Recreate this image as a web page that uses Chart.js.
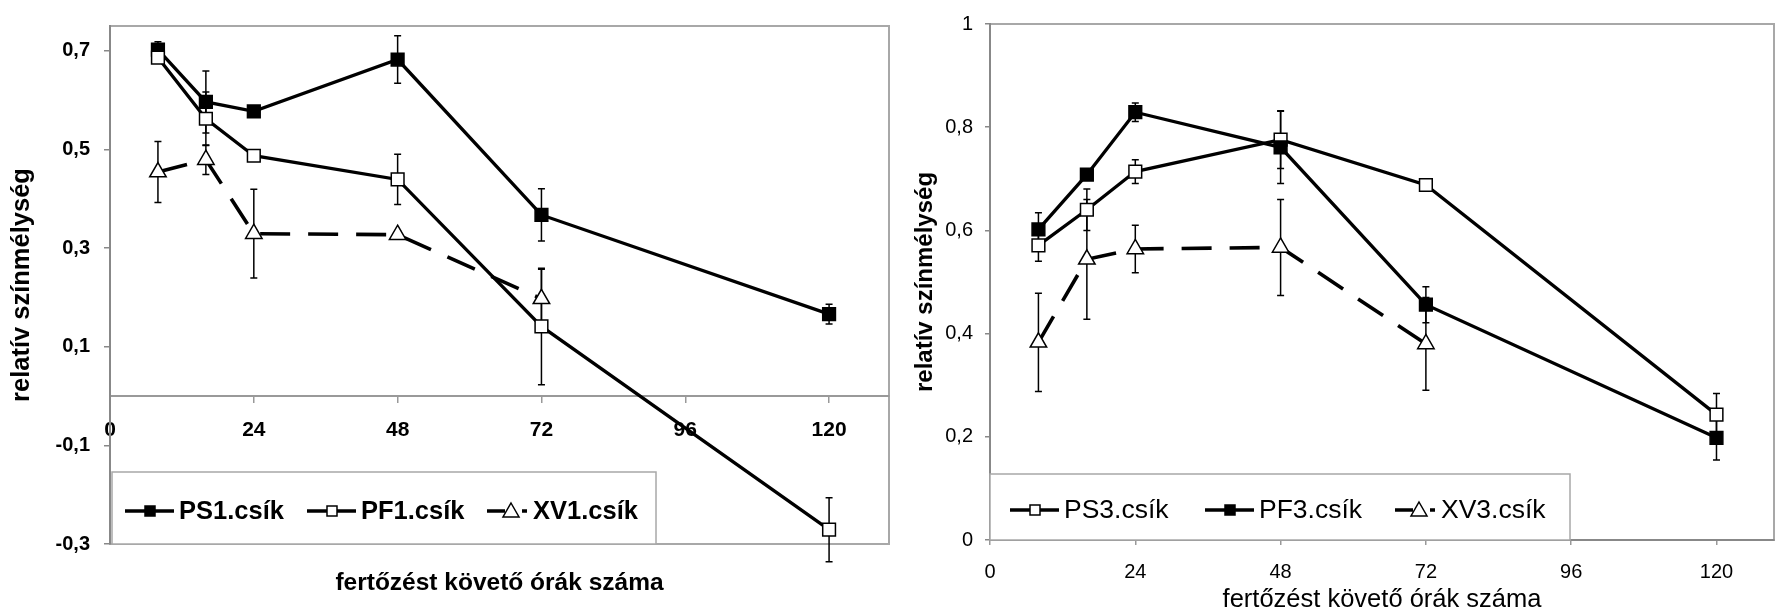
<!DOCTYPE html>
<html>
<head>
<meta charset="utf-8">
<script src="https://cdn.jsdelivr.net/npm/chart.js@4.4.1/dist/chart.umd.min.js"></script>
<style>
    html, body { margin: 0; padding: 0; background: #fff; }
    #wrap { position: relative; width: 1785px; height: 613px; overflow: hidden; }
    canvas { position: absolute; top: 0; }
    #left { left: 0; }
    #right { left: 900px; }
</style>
</head>
<body>
<div id="wrap">
    <canvas id="left" width="900" height="613"></canvas>
    <canvas id="right" width="885" height="613"></canvas>
</div>
<script>
// hours after infection
const hours = [8, 16, 24, 48, 72, 120];
const xTicks = [0, 24, 48, 72, 96, 120];
const yTicksLeft = [-0.3, -0.1, 0.1, 0.3, 0.5, 0.7];
const yTicksRight = [0, 0.2, 0.4, 0.6, 0.8, 1];

// left chart
const ps1 = [0.702, 0.596, 0.577, 0.682, 0.367, 0.166];
const ps1Err = [0.016, 0.063, 0.008, 0.048, 0.053, 0.02];
const pf1 = [0.686, 0.562, 0.487, 0.439, 0.141, -0.271];
const pf1Err = [0.01, 0.054, 0.008, 0.051, 0.118, 0.065];
const xv1 = [0.454, 0.479, 0.329, 0.327, 0.197, null];
const xv1Err = [0.062, 0.03, 0.09, 0.008, 0.06, null];

// right chart
const ps3 = [0.571, 0.640, 0.714, 0.776, 0.688, 0.243];
const ps3Err = [0.031, 0.04, 0.023, 0.056, 0.006, 0.041];
const pf3 = [0.602, 0.708, 0.829, 0.761, 0.456, 0.198];
const pf3Err = [0.032, 0.008, 0.018, 0.07, 0.035, 0.043];
const xv3 = [0.383, 0.544, 0.564, 0.567, 0.380, null];
const xv3Err = [0.095, 0.116, 0.046, 0.093, 0.09, null];

const FONT = '"Liberation Sans", Arial, sans-serif';
Chart.defaults.font.family = FONT;
Chart.defaults.color = '#000';

function points(values) {
    return hours.map((h, i) => ({ x: h, y: values[i] })).filter((p) => p.y !== null);
}
function errs(values, errors) {
    return errors.filter((e, i) => values[i] !== null);
}
const comma = (v) => String(v).replace('.', ',');

function dataset(label, values, errors, style) {
    const open = style !== 'filled';
    return {
        label,
        data: points(values),
        errors: errs(values, errors),
        borderColor: '#000',
        borderWidth: style === 'triangle' ? 3.6 : 3.3,
        borderDash: style === 'triangle' ? [30, 18] : [],
        pointStyle: style === 'triangle' ? 'triangle' : 'rect',
        pointRadius: style === 'triangle' ? 9.5 : 9,
        pointHoverRadius: style === 'triangle' ? 9.5 : 9,
        pointBorderWidth: 1.5,
        pointBorderColor: '#000',
        pointBackgroundColor: open ? '#fff' : '#000',
        fill: false,
        tension: 0,
        legendStyle: style
    };
}

const frame = {
    id: 'frame',
    beforeDraw(chart) {
        const { ctx, chartArea: a } = chart;
        ctx.save();
        ctx.strokeStyle = '#a8a8a8';
        ctx.lineWidth = 2;
        ctx.strokeRect(a.left, a.top, a.right - a.left, a.bottom - a.top);
        ctx.restore();
    }
};

const errorBars = {
    id: 'errorBars',
    beforeDatasetsDraw(chart) {
        const { ctx, scales: { x, y } } = chart;
        ctx.save();
        ctx.strokeStyle = '#000';
        ctx.lineWidth = 1.5;
        chart.data.datasets.forEach((ds) => {
            ds.data.forEach((p, i) => {
                const e = ds.errors[i];
                if (!e) return;
                const px = x.getPixelForValue(p.x);
                const top = y.getPixelForValue(p.y + e);
                const bot = y.getPixelForValue(p.y - e);
                ctx.beginPath();
                ctx.moveTo(px, top); ctx.lineTo(px, bot);
                ctx.moveTo(px - 3.5, top); ctx.lineTo(px + 3.5, top);
                ctx.moveTo(px - 3.5, bot); ctx.lineTo(px + 3.5, bot);
                ctx.stroke();
            });
        });
        ctx.restore();
    }
};

function legendMarker(ctx, style, x, y) {
    ctx.lineWidth = 1.5;
    ctx.strokeStyle = '#000';
    ctx.beginPath();
    if (style === 'triangle') {
        ctx.moveTo(x, y - 8);
        ctx.lineTo(x + 8, y + 6);
        ctx.lineTo(x - 8, y + 6);
        ctx.closePath();
        ctx.fillStyle = '#fff';
    } else {
        ctx.rect(x - 5, y - 5, 10, 10);
        ctx.fillStyle = style === 'filled' ? '#000' : '#fff';
    }
    ctx.fill();
    ctx.stroke();
}

const boxLegend = {
    id: 'boxLegend',
    afterDraw(chart, args, opts) {
        const { ctx, chartArea: a } = chart;
        ctx.save();
        ctx.fillStyle = '#fff';
        ctx.strokeStyle = '#a8a8a8';
        ctx.lineWidth = 1.5;
        const bx = a.left + opts.boxLeft;
        const by = a.bottom - opts.boxHeight;
        ctx.fillRect(bx, by, opts.boxWidth, opts.boxHeight);
        ctx.strokeRect(bx, by, opts.boxWidth, opts.boxHeight);
        const ty = a.bottom - opts.textFromBottom;
        chart.data.datasets.forEach((ds, i) => {
            const x0 = a.left + opts.items[i];
            ctx.strokeStyle = '#000';
            ctx.lineWidth = 3.5;
            ctx.beginPath();
            let tx;
            if (ds.legendStyle === 'triangle') {
                ctx.moveTo(x0, ty); ctx.lineTo(x0 + 18, ty);
                ctx.moveTo(x0 + 35, ty); ctx.lineTo(x0 + 40, ty);
                ctx.stroke();
                legendMarker(ctx, 'triangle', x0 + 24, ty);
                tx = x0 + 46;
            } else {
                ctx.moveTo(x0, ty); ctx.lineTo(x0 + 49, ty);
                ctx.stroke();
                legendMarker(ctx, ds.legendStyle, x0 + 25, ty);
                tx = x0 + 54;
            }
            ctx.fillStyle = '#000';
            ctx.font = opts.font;
            ctx.textBaseline = 'middle';
            ctx.textAlign = 'left';
            ctx.fillText(ds.label, tx, ty + 1);
        });
        ctx.restore();
    }
};

const title = 'relatív színmélység';
const xTitle = 'fertőzést követő órák száma';

new Chart(document.getElementById('left'), {
    type: 'line',
    data: {
        datasets: [
            Object.assign(dataset('PS1.csík', ps1, ps1Err, 'filled'), { order: 2 }),
            Object.assign(dataset('PF1.csík', pf1, pf1Err, 'open'), { order: 1 }),
            Object.assign(dataset('XV1.csík', xv1, xv1Err, 'triangle'), { order: 0 })
        ]
    },
    options: {
        responsive: false,
        animation: false,
        devicePixelRatio: 1,
        layout: { padding: { top: 13, bottom: 69, left: 0, right: 5 } },
        plugins: {
            legend: { display: false },
            tooltip: { enabled: false },
            boxLegend: {
                boxLeft: 2, boxWidth: 544, boxHeight: 72, textFromBottom: 33,
                items: [15, 197, 377],
                font: 'bold 25.5px ' + FONT
            }
        },
        scales: {
            x: {
                type: 'linear',
                min: 0,
                max: 130,
                position: { y: 0 },
                afterBuildTicks: (s) => { s.ticks = xTicks.map((v) => ({ value: v })); },
                afterFit: (s) => { s.height = 199; },
                ticks: { font: { size: 21, weight: 'bold' }, padding: 16, maxRotation: 0 },
                grid: { drawOnChartArea: false, tickLength: 6, color: '#999', lineWidth: 1.5 },
                border: { color: '#999', width: 2 },
                title: { display: true, text: xTitle, font: { size: 24.5, weight: 'bold', lineHeight: 1 }, padding: 0 }
            },
            y: {
                min: -0.3,
                max: 0.75,
                position: 'left',
                afterBuildTicks: (s) => { s.ticks = yTicksLeft.map((v) => ({ value: v })); },
                afterFit: (s) => { s.width = 110; },
                ticks: { font: { size: 20, weight: 'bold' }, padding: 14, callback: comma },
                grid: { drawOnChartArea: false, tickLength: 6, color: '#888', lineWidth: 1.5 },
                border: { color: '#888', width: 2 },
                title: { display: true, text: title, font: { size: 25.5, weight: 'bold', lineHeight: 1 }, padding: { top: 9, bottom: 0 } }
            }
        }
    },
    plugins: [frame, errorBars, boxLegend]
});

new Chart(document.getElementById('right'), {
    type: 'line',
    data: {
        datasets: [
            Object.assign(dataset('PS3.csík', ps3, ps3Err, 'open'), { order: 1 }),
            Object.assign(dataset('PF3.csík', pf3, pf3Err, 'filled'), { order: 0 }),
            Object.assign(dataset('XV3.csík', xv3, xv3Err, 'triangle'), { order: 2 })
        ]
    },
    options: {
        responsive: false,
        animation: false,
        devicePixelRatio: 1,
        layout: { padding: { top: 13, bottom: 0, left: 0, right: 0 } },
        plugins: {
            legend: { display: false },
            tooltip: { enabled: false },
            boxLegend: {
                boxLeft: 0, boxWidth: 580, boxHeight: 66, textFromBottom: 30,
                items: [20, 215, 405],
                font: '26.5px ' + FONT
            }
        },
        scales: {
            x: {
                type: 'linear',
                min: 0,
                max: 129.5,
                position: 'bottom',
                afterBuildTicks: (s) => { s.ticks = xTicks.map((v) => ({ value: v })); },
                afterFit: (s) => { s.height = 73; },
                ticks: { font: { size: 20 }, padding: 15, maxRotation: 0 },
                grid: { drawOnChartArea: false, tickLength: 5, color: '#999', lineWidth: 1.5 },
                border: { color: '#888', width: 2 },
                title: { display: true, text: xTitle, font: { size: 25.5, lineHeight: 1 }, padding: 0 }
            },
            y: {
                min: 0,
                max: 1,
                position: 'left',
                afterBuildTicks: (s) => { s.ticks = yTicksRight.map((v) => ({ value: v })); },
                afterFit: (s) => { s.width = 90; },
                ticks: { font: { size: 20 }, padding: 12, callback: comma },
                grid: { drawOnChartArea: false, tickLength: 5, color: '#888', lineWidth: 1.5 },
                border: { color: '#888', width: 2 },
                title: { display: true, text: title, font: { size: 24, weight: 'bold', lineHeight: 1 }, padding: { top: 13, bottom: 0 } }
            }
        }
    },
    plugins: [frame, errorBars, boxLegend]
});
</script>
</body>
</html>
